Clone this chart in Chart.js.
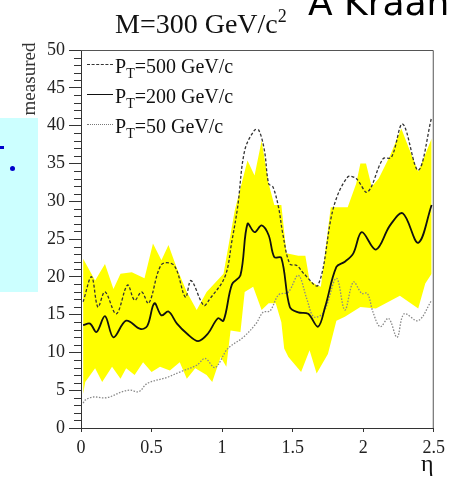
<!DOCTYPE html>
<html>
<head>
<meta charset="utf-8">
<script src="https://cdn.jsdelivr.net/npm/chart.js@4"></script>
<style>
  body { margin: 0; background: #fff; }
  #wrap { position: relative; width: 450px; height: 478px; overflow: hidden; font-family: "Liberation Serif", serif; color: #111; }
  #wrap div { position: absolute; white-space: nowrap; }
  canvas { position: absolute; left: 0; top: 0; }
  .leg { font-size: 20px; line-height: 20px; left: 87px; }
  .leg span.ln { display: inline-block; width: 26px; vertical-align: middle; margin-right: 2px; position: relative; top: -4px; }
  sub { font-size: 14px; vertical-align: -5px; line-height: 0; }
</style>
</head>
<body>
<div id="wrap">
  <div style="left:0;top:118px;width:38px;height:174px;background:#ccffff;"></div>
  <div style="left:0;top:146px;width:4px;height:3px;background:#0000cc;"></div>
  <div style="left:10px;top:166px;width:5px;height:5px;border-radius:50%;background:#0000cc;"></div>
  <canvas id="chart" width="450" height="478"></canvas>
  <div style="left:308px;top:-15px;font-family:'DejaVu Sans',sans-serif;font-size:36px;line-height:36px;color:#000;">A Kraan</div>
  <div style="left:115px;top:10px;font-size:28px;line-height:28px;">M=300 GeV/c<sup style="font-size:18px;vertical-align:11px;line-height:0;">2</sup></div>
  <div style="left:-11px;top:69px;width:80px;height:20px;line-height:20px;font-size:19px;text-align:center;transform:rotate(-90deg);color:#333;">measured</div>
  <div style="left:421px;top:451px;font-size:24px;line-height:24px;">η</div>
  <div class="leg" style="top:56px;"><span class="ln" style="border-top:1.5px dashed #333;"></span>P<sub>T</sub>=500 GeV/c</div>
  <div class="leg" style="top:86px;"><span class="ln" style="border-top:1.5px solid #111;"></span>P<sub>T</sub>=200 GeV/c</div>
  <div class="leg" style="top:116px;"><span class="ln" style="border-top:1.5px dotted #777;"></span>P<sub>T</sub>=50 GeV/c</div>
</div>
<script>
// pseudorapidity samples and values
const pt500Eta = [0.015, 0.075, 0.12, 0.17, 0.25, 0.33, 0.38, 0.43, 0.48, 0.57, 0.66, 0.74, 0.78, 0.87, 0.91, 1.02, 1.07, 1.11, 1.16, 1.23, 1.26, 1.30, 1.33, 1.36, 1.40, 1.43, 1.48, 1.53, 1.58, 1.68, 1.79, 1.89, 1.95, 2.03, 2.14, 2.20, 2.28, 2.39, 2.485];
const pt500 = [16.7, 20.0, 16.0, 18.0, 15.1, 18.9, 16.9, 18.0, 16.5, 21.6, 21.5, 17.3, 19.5, 16.2, 17.0, 20.0, 24.8, 29.2, 36.7, 39.4, 39.4, 36.7, 32.3, 31.9, 29.2, 25.7, 21.7, 21.5, 20.4, 18.9, 29.2, 33.2, 33.0, 31.2, 35.6, 35.8, 40.2, 34.1, 41.1];

const pt200Eta = [0.015, 0.064, 0.11, 0.17, 0.23, 0.32, 0.42, 0.47, 0.52, 0.57, 0.62, 0.68, 0.75, 0.83, 0.90, 0.97, 1.01, 1.07, 1.13, 1.18, 1.23, 1.28, 1.33, 1.37, 1.42, 1.48, 1.54, 1.61, 1.68, 1.73, 1.81, 1.87, 1.93, 1.99, 2.09, 2.19, 2.28, 2.39, 2.485];
const pt200 = [13.6, 13.8, 12.7, 14.8, 12.0, 14.2, 13.1, 13.5, 16.5, 14.9, 15.4, 13.8, 12.5, 11.5, 12.5, 14.5, 14.2, 19.0, 20.2, 27.0, 25.9, 26.8, 25.5, 22.6, 22.5, 16.0, 15.3, 15.1, 13.4, 16.0, 21.3, 22.0, 23.1, 25.9, 23.6, 26.8, 28.4, 24.5, 29.5];

const pt50Eta = [0.015, 0.03, 0.087, 0.18, 0.30, 0.35, 0.41, 0.47, 0.61, 0.70, 0.82, 0.88, 0.95, 1.04, 1.15, 1.24, 1.29, 1.34, 1.40, 1.47, 1.54, 1.60, 1.65, 1.72, 1.81, 1.87, 1.93, 1.99, 2.03, 2.07, 2.12, 2.18, 2.24, 2.29, 2.39, 2.485];
const pt50 = [3.3, 3.7, 4.1, 4.0, 4.85, 5.0, 4.8, 5.9, 6.7, 7.4, 8.3, 9.2, 8.0, 10.5, 12.0, 13.8, 15.3, 15.5, 17.6, 18.0, 20.2, 17.1, 14.7, 15.3, 19.8, 15.6, 19.3, 17.8, 17.8, 15.3, 13.4, 14.5, 12.0, 15.1, 14.2, 16.9];

// yellow band, upper and lower edges
const bandHiEta = [0.015, 0.10, 0.17, 0.23, 0.28, 0.36, 0.45, 0.51, 0.57, 0.62, 0.68, 0.75, 0.82, 0.89, 1.01, 1.09, 1.18, 1.23, 1.28, 1.33, 1.37, 1.42, 1.456, 1.54, 1.59, 1.62, 1.67, 1.70, 1.77, 1.89, 1.95, 1.98, 2.02, 2.06, 2.11, 2.19, 2.27, 2.32, 2.39, 2.485];
const bandHi = [22.4, 19.5, 21.7, 18.4, 20.4, 20.6, 19.8, 24.4, 22.2, 24.2, 21.1, 18.0, 15.6, 18.0, 20.4, 28.8, 35.4, 33.4, 38.0, 32.3, 29.5, 29.5, 23.1, 22.8, 22.8, 19.5, 18.9, 18.7, 29.2, 29.2, 32.3, 35.0, 35.0, 31.9, 33.0, 36.0, 39.6, 37.2, 33.9, 38.3];

const bandLoEta = [0.015, 0.03, 0.10, 0.15, 0.22, 0.28, 0.32, 0.38, 0.44, 0.50, 0.56, 0.63, 0.70, 0.75, 0.81, 0.89, 0.93, 0.99, 1.03, 1.06, 1.13, 1.16, 1.22, 1.28, 1.33, 1.38, 1.42, 1.44, 1.47, 1.56, 1.62, 1.67, 1.75, 1.81, 1.87, 1.98, 2.09, 2.26, 2.39, 2.44, 2.485];
const bandLo = [4.5, 6.1, 7.9, 6.1, 8.1, 6.5, 7.9, 7.0, 8.7, 7.4, 8.1, 7.6, 8.7, 6.5, 7.9, 7.0, 6.1, 9.4, 8.1, 12.9, 12.7, 18.0, 18.7, 15.6, 16.5, 16.5, 14.0, 10.5, 9.4, 7.4, 10.3, 7.2, 9.8, 14.2, 14.7, 16.0, 15.8, 17.5, 15.8, 19.1, 20.4];

const yTicks = [0, 5, 10, 15, 20, 25, 30, 35, 40, 45, 50];
const xTicks = [0, 0.5, 1, 1.5, 2, 2.5];

const pts = (xs, ys) => xs.map((x, i) => ({ x: x, y: ys[i] }));

// ROOT-style frame: top/right border and minor ticks on the y axis
const frame = {
  id: 'frame',
  afterDraw(chart) {
    const { ctx, chartArea: a } = chart;
    const ys = chart.scales.y;
    ctx.save();
    ctx.strokeStyle = '#555';
    ctx.lineWidth = 1;
    ctx.beginPath();
    ctx.moveTo(a.left, a.top + 0.5);
    ctx.lineTo(a.right - 0.5, a.top + 0.5);
    ctx.lineTo(a.right - 0.5, a.bottom);
    ctx.stroke();
    ctx.strokeStyle = '#333';
    ctx.beginPath();
    for (let v = 0; v <= 50; v++) {
      if (v % 5 === 0) continue;
      const py = Math.round(ys.getPixelForValue(v)) + 0.5;
      ctx.moveTo(a.left - 7, py);
      ctx.lineTo(a.left, py);
    }
    ctx.stroke();
    ctx.restore();
  }
};

new Chart(document.getElementById('chart'), {
  type: 'line',
  data: {
    datasets: [
      { label: 'PT=500 GeV/c', data: pts(pt500Eta, pt500), borderColor: '#333', borderWidth: 1.3, borderDash: [3, 2], tension: 0.35, pointRadius: 0, fill: false },
      { label: 'PT=200 GeV/c', data: pts(pt200Eta, pt200), borderColor: '#111', borderWidth: 1.8, tension: 0.35, pointRadius: 0, fill: false },
      { label: 'PT=50 GeV/c', data: pts(pt50Eta, pt50), borderColor: '#888', borderWidth: 1.3, borderDash: [1.5, 1.5], tension: 0.35, pointRadius: 0, fill: false },
      { label: 'band hi', data: pts(bandHiEta, bandHi), borderWidth: 0, borderColor: 'rgba(0,0,0,0)', backgroundColor: '#ffff00', tension: 0, pointRadius: 0, fill: '+1' },
      { label: 'band lo', data: pts(bandLoEta, bandLo), borderWidth: 0, borderColor: 'rgba(0,0,0,0)', tension: 0, pointRadius: 0, fill: false }
    ]
  },
  options: {
    responsive: false,
    animation: false,
    devicePixelRatio: 1,
    layout: { padding: { left: 0, top: 50, right: 16, bottom: 0 } },
    plugins: {
      legend: { display: false },
      tooltip: { enabled: false },
      filler: { drawTime: 'beforeDatasetsDraw' }
    },
    scales: {
      x: {
        type: 'linear', min: 0, max: 2.5,
        afterFit: (s) => { s.height = 50; },
        afterBuildTicks: (s) => { s.ticks = xTicks.map(v => ({ value: v })); },
        ticks: { padding: 5, color: '#222', font: { family: 'Liberation Serif', size: 18 }, maxRotation: 0, callback: (v) => String(v) },
        grid: { drawOnChartArea: false, tickLength: 4, color: '#333' },
        border: { color: '#333', width: 1 }
      },
      y: {
        min: 0, max: 50,
        afterFit: (s) => { s.width = 81; },
        afterBuildTicks: (s) => { s.ticks = yTicks.map(v => ({ value: v })); },
        ticks: { padding: 4, color: '#222', font: { family: 'Liberation Serif', size: 18 } },
        grid: { drawOnChartArea: false, tickLength: 12, color: '#333' },
        border: { color: '#333', width: 1 }
      }
    }
  },
  plugins: [frame]
});
</script>
</body>
</html>
